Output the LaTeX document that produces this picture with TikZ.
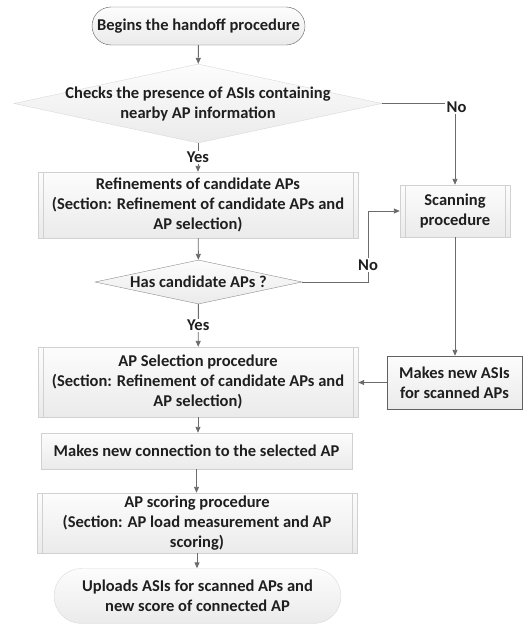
\documentclass[tikz,border=0pt]{standalone}
\usepackage{fontspec}
\setmainfont{Carlito}
\usetikzlibrary{shapes.geometric,shapes.misc,arrows.meta}
\begin{document}
\begin{tikzpicture}[x=1pt,y=-1pt,
  every node/.style={font=\bfseries\fontsize{16.5}{20}\selectfont, text=black!88, align=center},
  shade/.style={top color=black!1, bottom color=black!8},
  terminal/.style={rounded rectangle, shade, inner sep=0pt},
  proc/.style={rectangle, draw=black!18, shade, inner sep=0pt},
  subproc/.style={proc, path picture={
      \draw[black!18]
        ([xshift=5pt]path picture bounding box.north west) -- ([xshift=5pt]path picture bounding box.south west)
        ([xshift=-5pt]path picture bounding box.north east) -- ([xshift=-5pt]path picture bounding box.south east);}},
  decision/.style={diamond, shade, inner sep=0pt},
  arr/.style={draw=black!58, line width=0.9pt, -{Triangle[length=6pt,width=5pt]}},
  lbl/.style={fill=white, inner sep=1.5pt}
]
\useasboundingbox (0,0) rectangle (525,624);

% start and decision on nearby-AP information
\node[terminal, draw=black!62, minimum width=213, minimum height=38] (start) at (198.5,26) {Begins the handoff procedure};
\node[decision, draw=black!15, minimum width=368, minimum height=79] (d1) at (198,103.5) {};
\node (d1t) at (198,104) {Checks the presence of ASIs containing\\nearby AP information};

% refinement, scanning and second decision
\node[subproc, minimum width=320, minimum height=66] (ref) at (198,205) {Refinements of candidate APs\\(Section: Refinement of candidate APs and\\AP selection)};
\node[subproc, minimum width=110, minimum height=52] (scan) at (455,211) {Scanning\\procedure};
\node[decision, draw=black!45, minimum width=207, minimum height=44] (d2) at (198.5,282) {};
\node (d2t) at (198.5,282) {Has candidate APs ?};

% selection, connection, scoring and upload
\node[subproc, minimum width=320, minimum height=70] (sel) at (198,382) {AP Selection procedure\\(Section: Refinement of candidate APs and\\AP selection)};
\node[proc, draw=black!62, minimum width=135, minimum height=53] (asis) at (454.5,382.5) {Makes new ASIs\\for scanned APs};
\node[proc, minimum width=311, minimum height=36] (conn) at (196.5,451) {Makes new connection to the selected AP};
\node[subproc, minimum width=320, minimum height=60] (score) at (197,523) {AP scoring procedure\\(Section: AP load measurement and AP\\scoring)};
\node[terminal, draw=black!15, minimum width=287, minimum height=55] (fin) at (197.5,596) {Uploads ASIs for scanned APs and\\new score of connected AP};

% connectors
\draw[arr] (start) -- (d1);
\draw[arr] (d1.east) -| node[lbl, pos=0.5, yshift=-4pt, xshift=1.5pt]{No} (scan.north);
\draw[arr] (d1) -- node[lbl]{Yes} (ref);
\draw[arr] (ref) -- (d2);
\coordinate (nb) at (368,282);
\draw[arr] (d2.east) -- (nb) |- node[lbl, pos=0.12]{No} (scan.west);
\draw[arr] (d2) -- node[lbl]{Yes} (sel);
\draw[arr] (scan.south) -- (scan.south |- asis.north);
\draw[arr] (asis.west) -- (asis.west -| sel.east);
\draw[arr] (sel.south) -- (sel.south |- conn.north);
\draw[arr] (conn.south) -- (conn.south |- score.north);
\draw[arr] (score.south) -- (score.south |- fin.north);
\end{tikzpicture}
\end{document}
